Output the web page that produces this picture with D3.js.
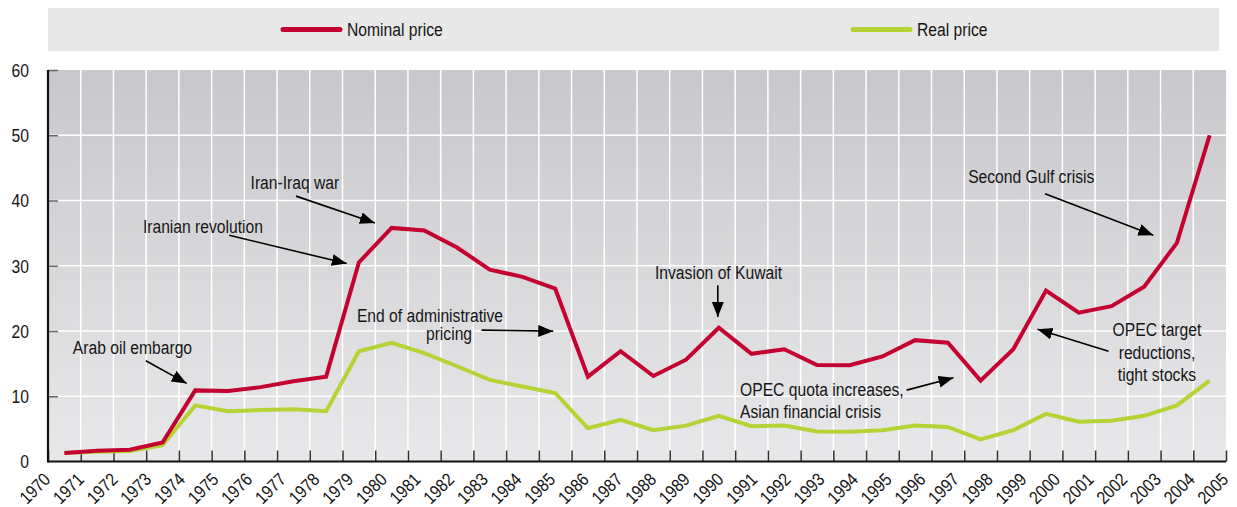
<!DOCTYPE html>
<html>
<head>
<meta charset="utf-8">
<script src="https://cdn.jsdelivr.net/npm/d3@7"></script>
<style>
  body { margin: 0; background: #fff; }
  svg text { font-family: "Liberation Sans", Arial, sans-serif; fill: #151515; }
</style>
</head>
<body>
<svg id="chart" width="1237" height="507"></svg>
<script>
// ----------------- DATA -----------------
var years = [1970, 1971, 1972, 1973, 1974, 1975, 1976, 1977, 1978, 1979,
             1980, 1981, 1982, 1983, 1984, 1985, 1986, 1987, 1988, 1989,
             1990, 1991, 1992, 1993, 1994, 1995, 1996, 1997, 1998, 1999,
             2000, 2001, 2002, 2003, 2004, 2005];
var nominal = [1.3, 1.65, 1.8, 2.9, 10.9, 10.8, 11.4, 12.3, 13.0, 30.5,
               35.8, 35.4, 32.8, 29.4, 28.3, 26.5, 13.0, 16.9, 13.1, 15.6,
               20.5, 16.5, 17.2, 14.8, 14.75, 16.1, 18.6, 18.2, 12.4, 17.2,
               26.2, 22.8, 23.8, 26.8, 33.5, 50.0];
var real = [1.3, 1.5, 1.6, 2.5, 8.6, 7.7, 7.9, 8.0, 7.7, 16.9,
            18.2, 16.6, 14.6, 12.5, 11.5, 10.5, 5.1, 6.4, 4.8, 5.5,
            7.0, 5.4, 5.5, 4.6, 4.55, 4.8, 5.5, 5.3, 3.4, 4.8,
            7.3, 6.1, 6.25, 7.0, 8.6, 12.4];
var yTicks = [0, 10, 20, 30, 40, 50, 60];
var seriesNames = ['Nominal price', 'Real price'];
var seriesColors = ['#c4022f', '#b5d334'];

// text lines: [label, year, value, anchor]; arrow from/to: [year, value]
var annotations = [
    {lines: [['Arab oil embargo', 1970.76, 17.5]], from: [1972.99, 15.43], to: [1974.24, 11.97]},
    {lines: [['Iranian revolution', 1972.9, 35.94]], from: [1975.54, 34.67], to: [1979.13, 30.34]},
    {lines: [['Iran-Iraq war', 1976.19, 42.74]], from: [1977.58, 40.67], to: [1979.99, 36.55]},
    {lines: [['End of administrative', 1979.44, 22.42], ['pricing', 1981.55, 19.62]], from: [1983.25, 20.13], to: [1985.44, 19.98]},
    {lines: [['Invasion of Kuwait', 1988.55, 28.9]], from: [1990.47, 27.02], to: [1990.47, 22.16]},
    {lines: [['OPEC quota increases,', 1991.15, 10.94], ['Asian financial crisis', 1991.15, 7.58]], from: [1996.24, 10.94], to: [1997.67, 12.83]},
    {lines: [['Second Gulf crisis', 1998.12, 43.59]], from: [2000.47, 41.05], to: [2003.78, 34.67]},
    {lines: [['OPEC target', 2003.89, 20.13, 'middle'], ['reductions,', 2003.89, 16.65, 'middle'], ['tight stocks', 2003.89, 13.24, 'middle']], from: [2002.41, 16.91], to: [2000.24, 20.28]}
];

// ----------------- LAYOUT -----------------
var svg = d3.select('#chart');
var plot = {left: 48, right: 1226, top: 70, bottom: 461.5};
var legendBox = {left: 48, right: 1219, top: 8, bottom: 51};
var squeeze = 0.87;   // no condensed face installed, so squash the regular one
var fontSize = 18;

// data sits in the middle of each yearly slot; year labels are spread edge to edge
var x = d3.scaleLinear().domain([1970, 2006]).range([plot.left, plot.right]);
var xLabel = d3.scaleLinear().domain([years[0], years[years.length - 1]]).range([plot.left, plot.right]);
var y = d3.scaleLinear().domain([0, 60]).range([plot.bottom, plot.top]);

function addText(parent, str, px, py, anchor) {
    return parent.append('text')
        .attr('transform', 'translate(' + px + ',' + py + ') scale(' + squeeze + ',1)')
        .attr('text-anchor', anchor || 'start')
        .attr('dy', '0.35em')
        .style('font-size', fontSize + 'px')
        .text(str);
}

var defs = svg.append('defs');
var grad = defs.append('linearGradient').attr('id', 'bg')
    .attr('x1', 0).attr('y1', 0).attr('x2', 0).attr('y2', 1);
grad.append('stop').attr('offset', '0%').attr('stop-color', '#c8c8cc');
grad.append('stop').attr('offset', '100%').attr('stop-color', '#e8e8ea');

defs.append('marker').attr('id', 'arrow')
    .attr('markerUnits', 'userSpaceOnUse')
    .attr('markerWidth', 16).attr('markerHeight', 14)
    .attr('refX', 15).attr('refY', 6)
    .attr('orient', 'auto')
  .append('path').attr('d', 'M0,0 L15,6 L0,12 Z').attr('fill', '#000');

// ----------------- LEGEND -----------------
svg.append('rect')
    .attr('x', legendBox.left).attr('y', legendBox.top)
    .attr('width', legendBox.right - legendBox.left).attr('height', legendBox.bottom - legendBox.top)
    .attr('fill', '#e8e8e8');

var legendX = [283, 853];
seriesNames.forEach(function(name, i) {
    svg.append('line')
        .attr('x1', legendX[i]).attr('x2', legendX[i] + 57)
        .attr('y1', 29.5).attr('y2', 29.5)
        .attr('stroke', seriesColors[i]).attr('stroke-width', 5)
        .attr('stroke-linecap', 'round');
    addText(svg, name, legendX[i] + 64, 29.5);
});

// ----------------- PLOT AREA -----------------
svg.append('rect')
    .attr('x', plot.left).attr('y', plot.top)
    .attr('width', plot.right - plot.left).attr('height', plot.bottom - plot.top)
    .attr('fill', 'url(#bg)');

var edges = years.concat([2006]);

// vertical grid
svg.append('g').selectAll('line').data(edges.slice(1, -1)).join('line')
    .attr('x1', d => x(d)).attr('x2', d => x(d))
    .attr('y1', plot.top).attr('y2', plot.bottom)
    .attr('stroke', '#fff').attr('stroke-width', 1.5);

// horizontal grid
svg.append('g').selectAll('line').data(yTicks.slice(1, -1)).join('line')
    .attr('x1', plot.left).attr('x2', plot.right)
    .attr('y1', d => y(d)).attr('y2', d => y(d))
    .attr('stroke', '#fff').attr('stroke-width', 1.5);

// y axis labels
var yAxis = d3.axisLeft(y).tickValues(yTicks).tickSize(0).tickPadding(0);
svg.append('g')
    .attr('transform', 'translate(' + plot.left + ',0)')
    .call(yAxis)
    .call(g => g.select('.domain').remove())
    .selectAll('text')
    .style('font-size', fontSize + 'px').style('font-family', null).attr('fill', '#151515')
    .attr('x', 0).attr('dy', '0.35em')
    .attr('transform', 'translate(-19,0) scale(' + squeeze + ',1)');

// inner y ticks
svg.append('g')
    .attr('transform', 'translate(' + plot.left + ',0)')
    .call(d3.axisRight(y).tickValues(yTicks.slice(1)).tickSize(10).tickFormat(''))
    .call(g => g.select('.domain').remove())
    .selectAll('line').attr('stroke', '#666').attr('stroke-width', 1.5);

// x ticks pointing up
svg.append('g')
    .attr('transform', 'translate(0,' + plot.bottom + ')')
    .call(d3.axisTop(x).tickValues(edges).tickSize(11).tickFormat(''))
    .call(g => g.select('.domain').remove())
    .selectAll('line').attr('stroke', '#333').attr('stroke-width', 1.5);

// x labels, rotated
var xAxis = d3.axisBottom(xLabel).tickValues(years).tickSize(0).tickFormat(d3.format('d'));
var xg = svg.append('g')
    .attr('transform', 'translate(0,' + plot.bottom + ')')
    .call(xAxis)
    .call(g => g.select('.domain').remove());
xg.selectAll('text')
    .style('font-size', fontSize + 'px').style('font-family', null).attr('fill', '#151515')
    .attr('text-anchor', 'end')
    .attr('y', 0).attr('dy', 0)
    .attr('transform', 'translate(3,19) rotate(-45) scale(' + squeeze + ',1)');

// axis lines
svg.append('line')
    .attr('x1', plot.left).attr('x2', plot.left)
    .attr('y1', plot.top).attr('y2', plot.bottom + 1)
    .attr('stroke', '#111').attr('stroke-width', 2.2);
svg.append('line')
    .attr('x1', plot.left).attr('x2', plot.right)
    .attr('y1', plot.bottom).attr('y2', plot.bottom)
    .attr('stroke', '#111').attr('stroke-width', 2.2);

// ----------------- SERIES -----------------
var line = d3.line()
    .x((d, i) => x(years[i] + 0.5))
    .y(d => y(d));

[real, nominal].forEach(function(series, k) {
    svg.append('path')
        .datum(series)
        .attr('d', line)
        .attr('fill', 'none')
        .attr('stroke', k === 0 ? seriesColors[1] : seriesColors[0])
        .attr('stroke-width', 4)
        .attr('stroke-linejoin', 'miter');
});

// ----------------- ANNOTATIONS -----------------
annotations.forEach(function(a) {
    svg.append('line')
        .attr('x1', x(a.from[0])).attr('y1', y(a.from[1]))
        .attr('x2', x(a.to[0])).attr('y2', y(a.to[1]))
        .attr('stroke', '#000').attr('stroke-width', 1.6)
        .attr('marker-end', 'url(#arrow)');
    a.lines.forEach(function(l) {
        addText(svg, l[0], x(l[1]), y(l[2]), l[3]);
    });
});
</script>
</body>
</html>
